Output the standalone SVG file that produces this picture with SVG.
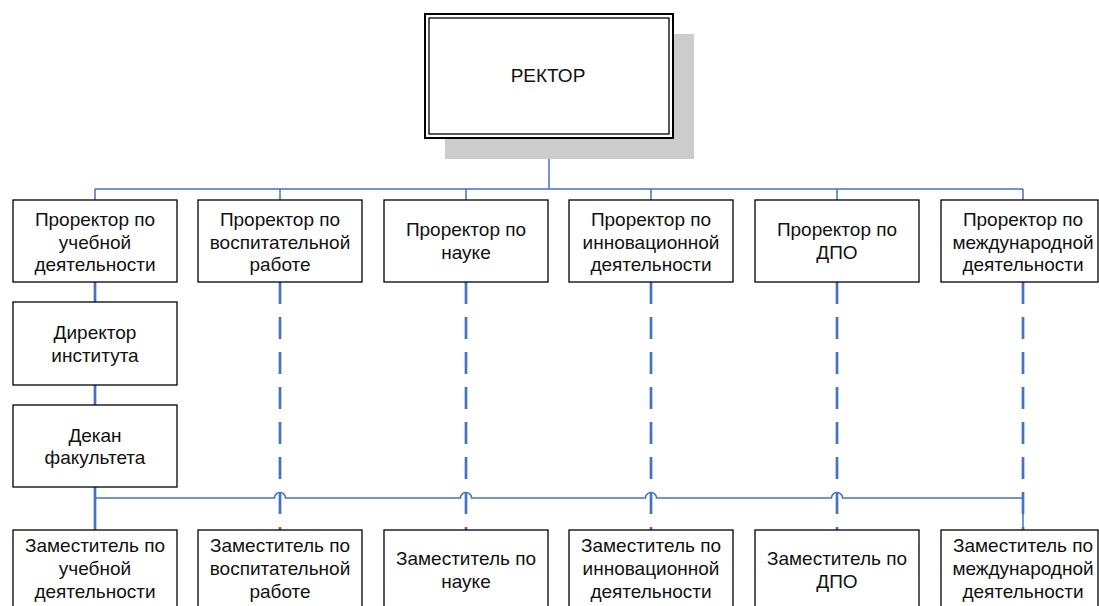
<svg xmlns="http://www.w3.org/2000/svg" width="1099" height="606" viewBox="0 0 1099 606">
<style>
.box{fill:#fff;stroke:#000;stroke-width:1.3}
.t{font-family:"Liberation Sans",Arial,sans-serif;font-size:19px;fill:#111;text-anchor:middle}
.thin{fill:none;stroke:#4472C4;stroke-width:1.5}
.thick{fill:none;stroke:#4472C4;stroke-width:2.7}
.dash{fill:none;stroke:#4472C4;stroke-width:2.7;stroke-dasharray:22 13}
</style>
<rect width="1099" height="606" fill="#fff"/>
<g id="connectors">
<path class="thin" d="M549,138 V189 M95,189 H1023 M95,189 V200 M280,189 V200 M466,189 V200 M651,189 V200 M837,189 V200 M1023,189 V200"/>
<path class="thick" d="M95,282 V302 M95,385 V405 M95,487 V530"/>
<path class="thin" d="M95,498 H274.5 A5.5,5.5 0 0 1 285.5,498 H460.5 A5.5,5.5 0 0 1 471.5,498 H645.5 A5.5,5.5 0 0 1 656.5,498 H831.5 A5.5,5.5 0 0 1 842.5,498 H1023 V530"/>
<path class="dash" d="M280,282 V530 M466,282 V530 M651,282 V530 M837,282 V530 M1023,282 V530"/>
</g>
<g id="rector">
<rect x="445" y="34" width="249" height="125" fill="#cccccc"/>
<rect x="425" y="14" width="248" height="124" fill="#fff" stroke="#000" stroke-width="2"/>
<rect x="429" y="18" width="240" height="116" fill="none" stroke="#000" stroke-width="1.3"/>
<text class="t" x="548" y="82">РЕКТОР</text>
</g>
<g id="pr1"><rect class="box" x="13" y="200" width="164" height="82"/><text class="t" x="95" y="226">Проректор по</text><text class="t" x="95" y="248.5">учебной</text><text class="t" x="95" y="271">деятельности</text></g>
<g id="pr2"><rect class="box" x="198" y="200" width="164" height="82"/><text class="t" x="280" y="226">Проректор по</text><text class="t" x="280" y="248.5">воспитательной</text><text class="t" x="280" y="271">работе</text></g>
<g id="pr3"><rect class="box" x="384" y="200" width="164" height="82"/><text class="t" x="466" y="236">Проректор по</text><text class="t" x="466" y="258.5">науке</text></g>
<g id="pr4"><rect class="box" x="569" y="200" width="164" height="82"/><text class="t" x="651" y="226">Проректор по</text><text class="t" x="651" y="248.5">инновационной</text><text class="t" x="651" y="271">деятельности</text></g>
<g id="pr5"><rect class="box" x="755" y="200" width="164" height="82"/><text class="t" x="837" y="236">Проректор по</text><text class="t" x="837" y="258.5">ДПО</text></g>
<g id="pr6"><rect class="box" x="941" y="200" width="157" height="82"/><text class="t" x="1023" y="226">Проректор по</text><text class="t" x="1023" y="248.5">международной</text><text class="t" x="1023" y="271">деятельности</text></g>
<g id="director"><rect class="box" x="13" y="302" width="164" height="83"/><text class="t" x="95" y="339">Директор</text><text class="t" x="95" y="361.5">института</text></g>
<g id="dean"><rect class="box" x="13" y="405" width="164" height="82"/><text class="t" x="95" y="441.5">Декан</text><text class="t" x="95" y="464">факультета</text></g>
<g id="z1"><rect class="box" x="13" y="530" width="164" height="82"/><text class="t" x="95" y="552">Заместитель по</text><text class="t" x="95" y="575">учебной</text><text class="t" x="95" y="598">деятельности</text></g>
<g id="z2"><rect class="box" x="198" y="530" width="164" height="82"/><text class="t" x="280" y="552">Заместитель по</text><text class="t" x="280" y="575">воспитательной</text><text class="t" x="280" y="598">работе</text></g>
<g id="z3"><rect class="box" x="384" y="530" width="164" height="82"/><text class="t" x="466" y="565">Заместитель по</text><text class="t" x="466" y="588">науке</text></g>
<g id="z4"><rect class="box" x="569" y="530" width="164" height="82"/><text class="t" x="651" y="552">Заместитель по</text><text class="t" x="651" y="575">инновационной</text><text class="t" x="651" y="598">деятельности</text></g>
<g id="z5"><rect class="box" x="755" y="530" width="164" height="82"/><text class="t" x="837" y="565">Заместитель по</text><text class="t" x="837" y="588">ДПО</text></g>
<g id="z6"><rect class="box" x="941" y="530" width="157" height="82"/><text class="t" x="1023" y="552">Заместитель по</text><text class="t" x="1023" y="575">международной</text><text class="t" x="1023" y="598">деятельности</text></g>
</svg>
